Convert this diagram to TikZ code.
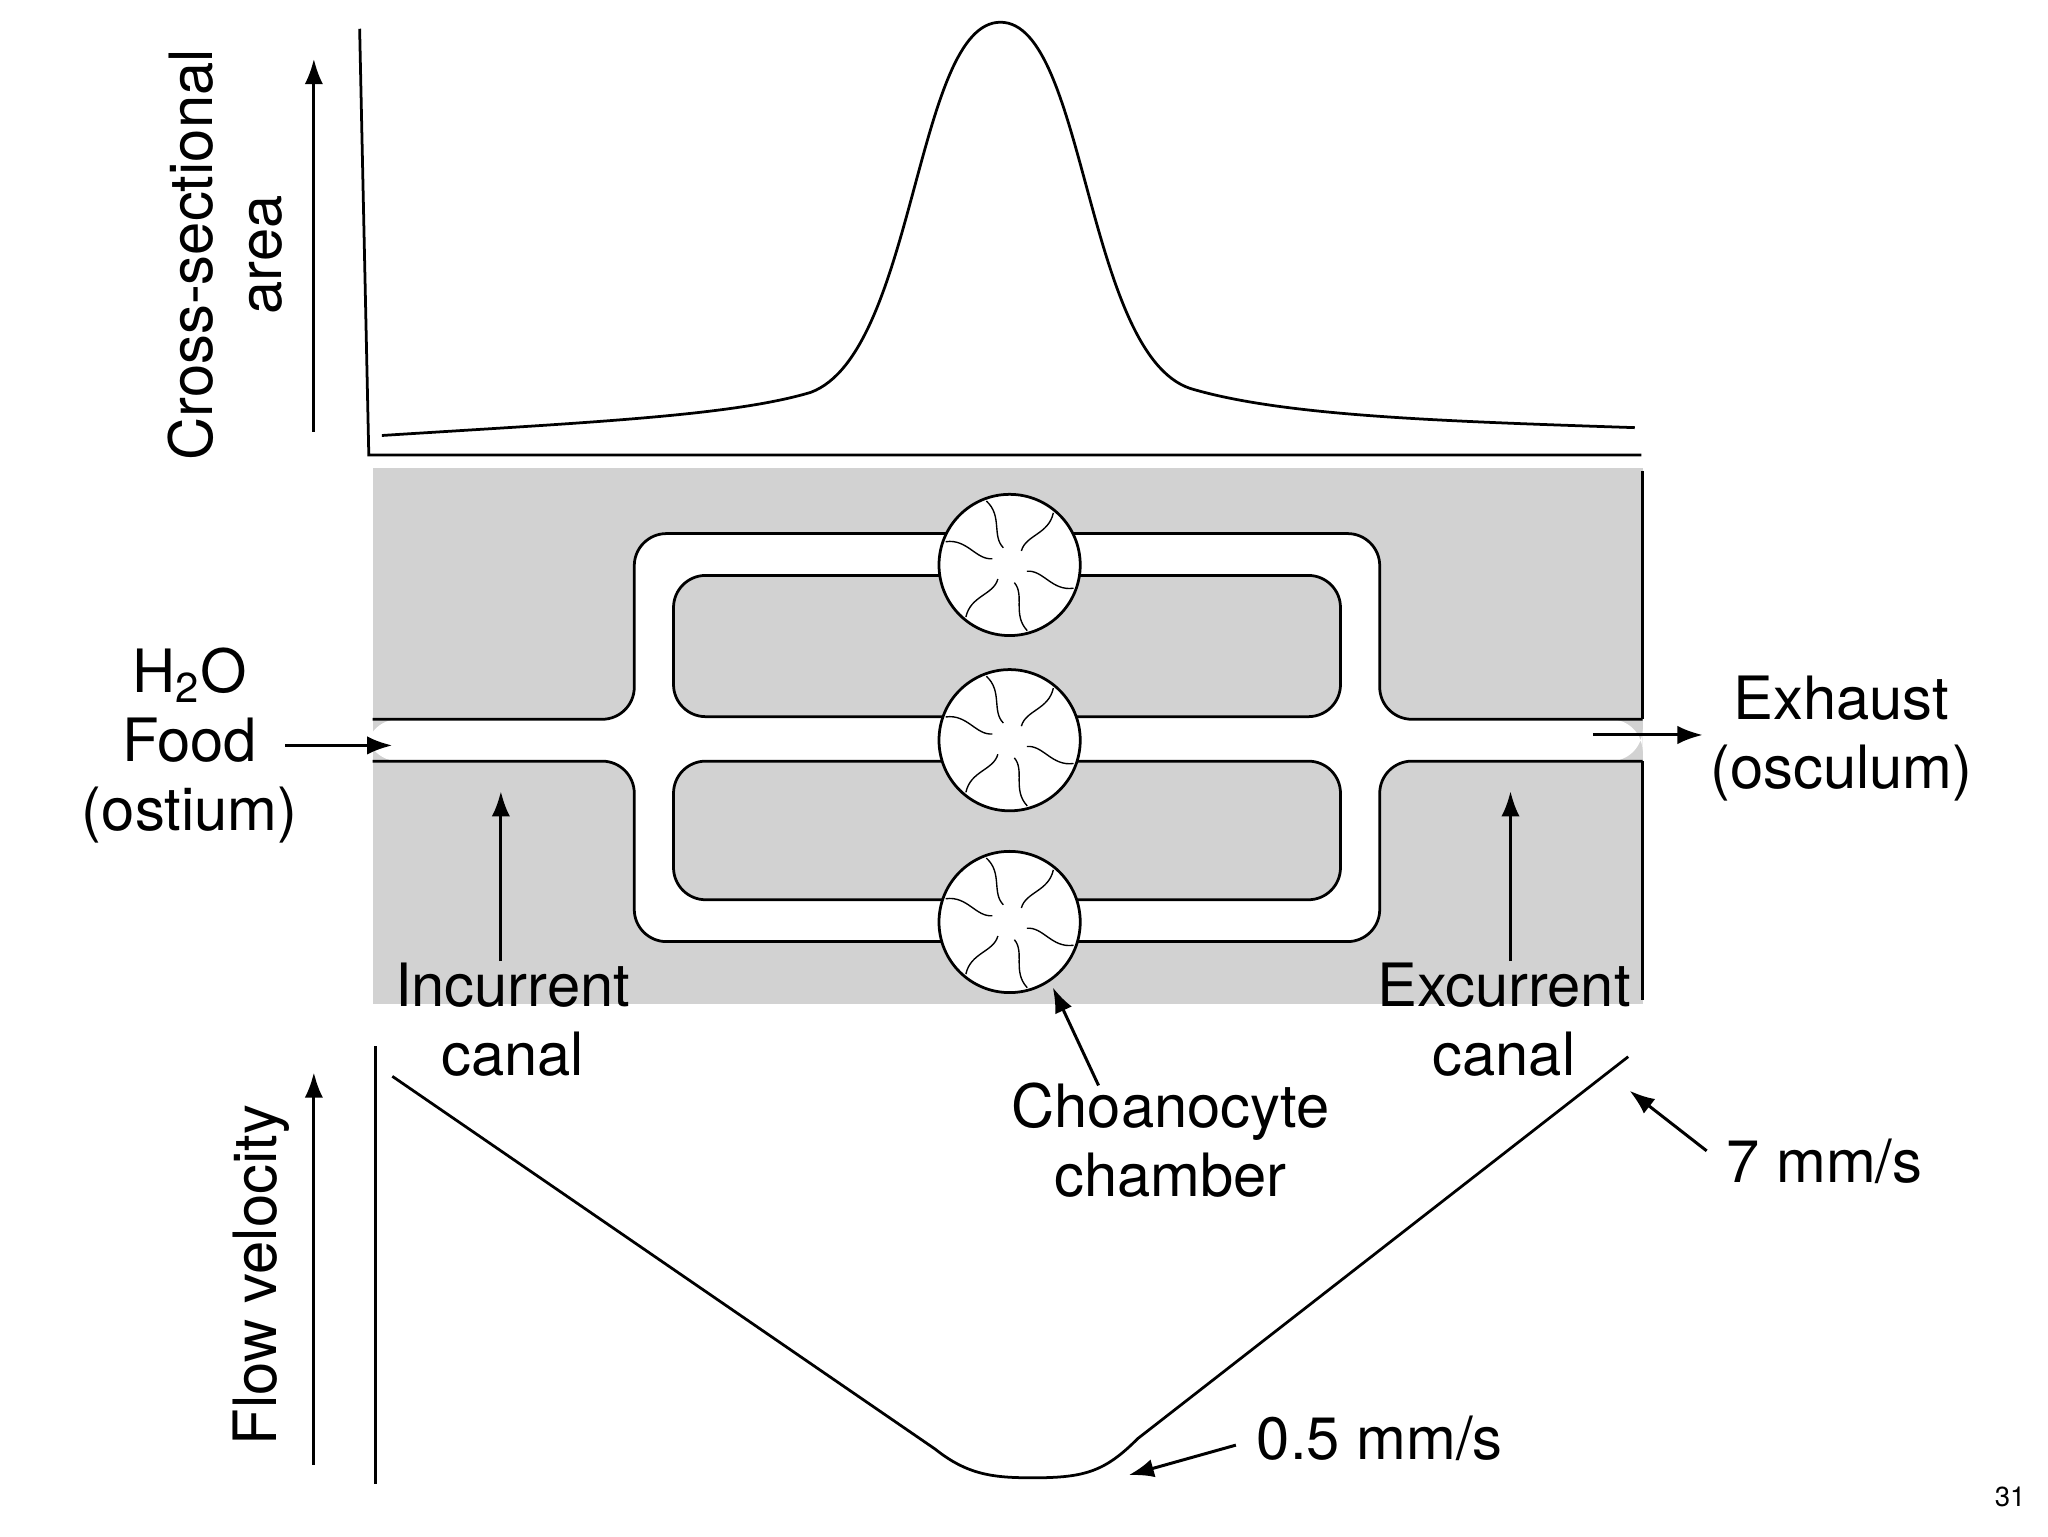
\documentclass[tikz,border=0pt]{standalone}
\usepackage{fontspec}
\setmainfont{TeX Gyre Heros}
\usetikzlibrary{arrows.meta, calc}
\begin{document}
\begin{tikzpicture}[x=0.02cm, y=-0.02cm, line width=1.2pt,
  lbl/.style   = {align=center, font=\fontsize{26}{30}\selectfont, inner sep=0pt},
  ax/.style    = {-{Latex[length=11pt, width=8pt]}, line width=1.3pt},
  tissue/.style= {fill=gray!35, draw=black, rounded corners=14},
  ]
  \useasboundingbox (0,0) rectangle (1566,1175);

  % Cross-sectional area graph
  \draw (275,22) -- (282,348) -- (1255,348);
  \draw[ax] (240,330) -- (240,45);
  \node (area) at (172,195) [lbl, rotate=90] {Cross-sectional\\area};
  \draw (292,333) .. controls (450,323) and (560,318) .. (620,300)
        .. controls (700,270) and (700,17) .. (765,17)
        .. controls (830,17) and (830,270) .. (910,297)
        .. controls (980,318) and (1100,322) .. (1250,327);

  % Sponge tissue and canals
  \fill[gray!35] (285,358) rectangle (1256,768);
  \fill[white, rounded corners=14] (280,550) -| (485,408) -| (1055,550) -- (1256,550)
        -- (1256,582) -- (1055,582) |- (485,720) |- (280,582) -- cycle;
  \draw[rounded corners=14] (285,550) -| (485,408) -| (1055,550) -- (1256,550);
  \draw[rounded corners=14] (285,582) -| (485,720) -| (1055,582) -- (1256,582);
  \draw (1256,360) -- (1256,550) (1256,582) -- (1256,765);
  \draw[tissue] (515,440) rectangle (1025,548);
  \draw[tissue] (515,582) rectangle (1025,688);

  % Choanocyte chambers
  \foreach \cy/\ca/\cb in {432/408/440, 566/550/582, 705/688/720}{
    \draw[fill=white] (772,\cy) circle (54);
    \begin{scope}
      \clip (772,\cy) circle (52);
      \fill[white] (690,\ca) rectangle (860,\cb);
    \end{scope}
    \foreach \a in {20,75,130,200,250,310}{
      \draw[line width=0.6pt] ($(772,\cy)+(\a:52)$) .. controls ($(772,\cy)+(\a+12:38)$)
            and ($(772,\cy)+(\a-12:26)$) .. ($(772,\cy)+(\a:14)$);
    }
  }

  % Labels in the middle
  \node (in)  at (145,570)  [lbl] {H\textsubscript{2}O\\Food\\(ostium)};
  \draw[ax] (218,570) -- (300,570);
  \node (out) at (1408,565) [lbl] {Exhaust\\(osculum)};
  \draw[ax] (1218,562) -- (1302,562);
  \node (inc) at (392,780)  [lbl] {Incurrent\\canal};
  \draw[ax] (383,735) -- (383,605);
  \node (exc) at (1150,780) [lbl] {Excurrent\\canal};
  \draw[ax] (1155,735) -- (1155,605);
  \node (cho) at (895,872)  [lbl] {Choanocyte\\chamber};
  \draw[ax] (840,830) -- (805,755);

  % Flow velocity graph
  \draw (287,800) -- (287,1135);
  \draw[ax] (240,1120) -- (240,820);
  \node (vel) at (200,975) [lbl, rotate=90] {Flow velocity};
  \draw (300,823) -- (715,1108) .. controls (740,1128) and (760,1130) .. (790,1130)
        .. controls (830,1130) and (845,1125) .. (870,1100) -- (1245,808);
  \node (fast) at (1395,888)  [lbl] {7 mm/s};
  \draw[ax] (1305,880) -- (1246,834);
  \node (slow) at (1055,1100) [lbl] {0.5 mm/s};
  \draw[ax] (945,1105) -- (863,1128);
  \node (pg) at (1537,1145) [font=\rmfamily\large] {31};
\end{tikzpicture}
\end{document}
